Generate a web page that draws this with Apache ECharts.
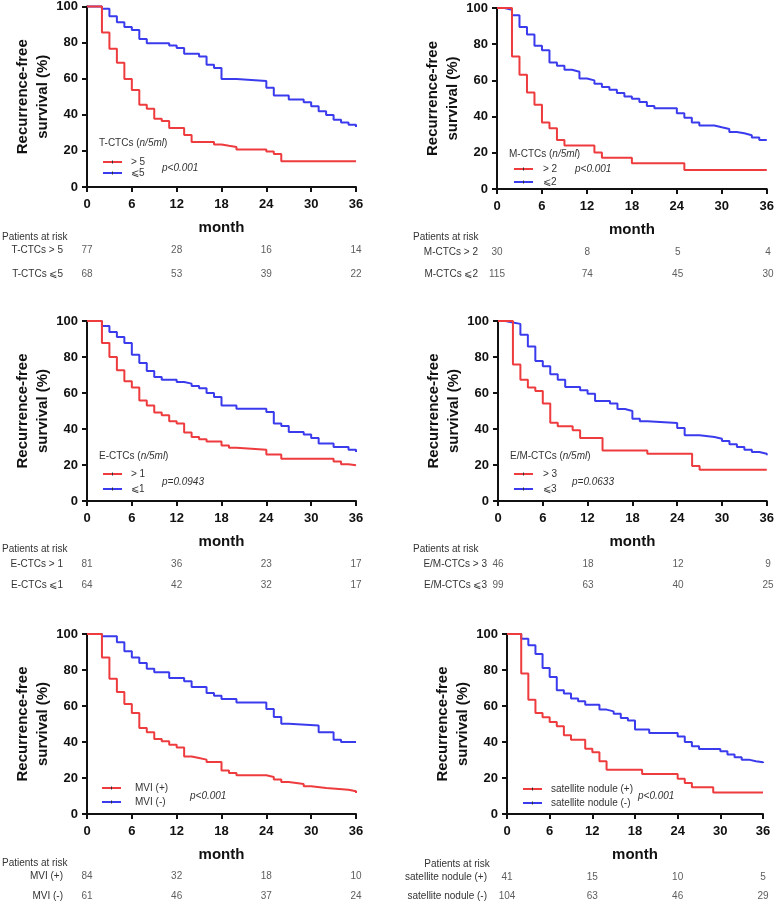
<!DOCTYPE html>
<html><head><meta charset="utf-8">
<script src="https://cdn.jsdelivr.net/npm/echarts@6/dist/echarts.min.js"></script>
<style>html,body{margin:0;padding:0;background:#fff}#c{width:777px;height:906px}</style>
</head><body><div id="c"></div><script>
// ---------- data ----------
const xTicks = [0, 6, 12, 18, 24, 30, 36];
const riskTimes = [0, 12, 24, 36];

const tctcHigh = [[0,100],[2,85.6],[3,76.6],[4,68.8],[5,59.8],[6,53.7],[7,45.6],[8,43.4],[9,37.8],[10,36.5],[11,32.7],[13,28.8],[14,24.9],[17,23.6],[18,22.8],[19,22.1],[20,20.8],[24,19.6],[25,18.3],[26,14.2],[36,14.2]];
const tctcLow = [[0,100],[2,98.7],[3,94.6],[4,91.3],[5,88.6],[6,87],[7,82],[8,79.7],[11,78.4],[12,77],[13,73.8],[15,72.3],[16,67.7],[17,65.9],[18,59.8],[20,58.7],[24,55],[25,50.7],[27,48.5],[29,47],[30,44.8],[31,41.9],[32,39.9],[33,37.3],[34,35.8],[35,34.5],[36,33.2]];
const mctcHigh = [[0,100],[2,73.2],[3,63.1],[4,53.3],[5,46.5],[6,36.7],[7,33.6],[8,27.1],[9,24],[13,20.1],[14,17.2],[18,14.2],[25,10.5],[36,10.5]];
const mctcLow = [[0,100],[1,99],[2,96],[3,89.5],[4,85.4],[5,79.2],[6,76.6],[7,69.9],[8,68.1],[9,65.9],[10,64.8],[11,61.1],[12,60],[13,58.1],[14,56.3],[15,54.8],[16,53],[17,51.1],[18,49.8],[19,48],[20,45.9],[21,44.6],[24,41.9],[25,39.3],[26,36.7],[27,35.1],[29,34.1],[30,33.2],[31,31.5],[32,30.8],[33,29.7],[34,28.4],[35,27.1],[36,26.8]];
const ectcHigh = [[0,100],[2,87.8],[3,80],[4,72.6],[5,66.5],[6,63],[7,55.9],[8,53.1],[9,49.1],[10,47.6],[11,44.3],[12,43],[13,38],[14,35.6],[15,34.3],[16,33.1],[18,30.9],[19,29.6],[20,28.5],[24,25.9],[26,23.5],[33,22],[34,20.4],[35,19.8],[36,19.8]];
const ectcLow = [[0,100],[2,97.2],[3,93.9],[4,91.1],[5,87.8],[6,81.3],[7,76.7],[8,72.2],[9,68.9],[10,67.4],[12,66.1],[13,65.2],[14,63.9],[15,62.6],[16,60],[17,57.8],[18,53.1],[20,51.3],[24,49.4],[25,43],[26,41.7],[27,38.3],[29,36.9],[30,35],[31,31.9],[33,30],[35,28.5],[36,27.2]];
const emHigh = [[0,100],[2,75.9],[3,67.4],[4,63],[5,61.1],[6,54.1],[7,43.5],[8,41.5],[10,39.3],[11,35],[14,28.1],[20,26.3],[26,19.4],[27,17.4],[36,17.4]];
const emLow = [[0,100],[1,99.2],[2,98.4],[3,92.4],[4,85.9],[5,77.8],[6,74.8],[7,70.4],[8,67.4],[9,63.3],[11,61.5],[12,59.6],[13,55.6],[15,54.1],[16,51.1],[17,50],[18,45.7],[19,44.3],[20,43.3],[24,40.6],[25,36.5],[27,35.6],[29,34.6],[30,33.3],[31,31.5],[32,30],[33,28.5],[34,27.2],[35,26.3],[36,25.4]];
const mviPos = [[0,100],[2,87],[3,75.2],[4,67.8],[5,61.1],[6,56.1],[7,47.8],[8,45.4],[9,41.7],[10,40.4],[11,38.5],[12,37],[13,32],[14,31.1],[15,30.2],[16,28.9],[18,24.1],[19,22.8],[20,21.5],[24,20.6],[25,19.1],[26,17.8],[27,16.7],[29,15.4],[30,14.4],[32,13.5],[35,12.6],[36,11.7]];
const mviNeg = [[0,100],[2,98.7],[4,95.4],[5,90.4],[6,87],[7,83.9],[8,80.7],[9,78.7],[11,75.6],[13,73.7],[14,70.6],[16,67.2],[17,65.7],[18,63.9],[20,62],[24,58.3],[25,53.9],[26,50.2],[27,49.1],[31,45.4],[33,41.3],[34,40],[36,40]];
const satPos = [[0,100],[2,78],[3,63.5],[4,56.1],[5,53.7],[6,51.1],[7,48.7],[8,43.7],[9,41.3],[11,36.3],[12,34.3],[13,29.3],[14,24.6],[19,22.2],[24,19.6],[25,17.2],[26,14.8],[29,12],[36,12]];
const satNeg = [[0,100],[2,97.4],[3,93.7],[4,88.9],[5,81.1],[6,76.1],[7,68.7],[8,66.9],[9,64.1],[10,62.6],[11,60.7],[13,58],[14,57],[15,55.7],[16,53.3],[17,51.9],[18,46.9],[20,45],[24,43.1],[25,40],[26,37.6],[27,36.1],[30,34.8],[31,33],[32,31.5],[33,30.2],[34,29.3],[35,28.7],[36,28.3]];

const tctcRisk = [[77,28,16,14],[68,53,39,22]];
const mctcRisk = [[30,8,5,4],[115,74,45,30]];
const ectcRisk = [[81,36,23,17],[64,42,32,17]];
const emRisk = [[46,18,12,9],[99,63,40,25]];
const mviRisk = [[84,32,18,10],[61,46,37,24]];
const satRisk = [[41,15,10,5],[104,63,46,29]];

const tctcRows = ['T-CTCs > 5','T-CTCs \u2A7D5'];
const mctcRows = ['M-CTCs > 2','M-CTCs \u2A7D2'];
const ectcRows = ['E-CTCs > 1','E-CTCs \u2A7D1'];
const emRows = ['E/M-CTCs > 3','E/M-CTCs \u2A7D3'];
const mviRows = ['MVI (+)','MVI (-)'];
const satRows = ['satellite nodule (+)','satellite nodule (-)'];

const tctcLegend = ['> 5','\u2A7D5'];
const mctcLegend = ['> 2','\u2A7D2'];
const ectcLegend = ['> 1','\u2A7D1'];
const emLegend = ['> 3','\u2A7D3'];
const mviLegend = ['MVI (+)','MVI (-)'];
const satLegend = ['satellite nodule (+)','satellite nodule (-)'];

const pValues = ['p<0.001','p<0.001','p=0.0943','p=0.0633','p<0.001','p<0.001'];
const legendTitles = ['T-CTCs','M-CTCs','E-CTCs','E/M-CTCs',null,null];

// ---------- layout ----------
const RED = '#ee3b3e', BLUE = '#3b3bee';
const FONT = '"Liberation Sans", Arial, sans-serif';
const panels = [
  {red:tctcHigh, blue:tctcLow, risk:tctcRisk, rows:tctcRows, leg:tctcLegend,
   grid:{left:87,top:6,width:269,height:181}, rgrid:{top:238,height:48}, rmargin:24,
   par:[2,237,'left'], lt:[99,143], ll:[103,162,173,131], pv:[162,168]},
  {red:mctcHigh, blue:mctcLow, risk:mctcRisk, rows:mctcRows, leg:mctcLegend,
   grid:{left:497,top:8,width:271,height:181}, rgrid:{top:241,height:44}, rmargin:19,
   par:[413,237,'left'], lt:[509,154], ll:[514,169,182,543], pv:[575,169]},
  {red:ectcHigh, blue:ectcLow, risk:ectcRisk, rows:ectcRows, leg:ectcLegend,
   grid:{left:87,top:321,width:269,height:180}, rgrid:{top:553.5,height:42}, rmargin:24,
   par:[2,549,'left'], lt:[99,456], ll:[103,474,489,131], pv:[162,482]},
  {red:emHigh, blue:emLow, risk:emRisk, rows:emRows, leg:emLegend,
   grid:{left:498,top:321,width:270,height:180}, rgrid:{top:553.5,height:42}, rmargin:11,
   par:[413,549,'left'], lt:[510,456], ll:[514,474,489,543], pv:[572,482]},
  {red:mviPos, blue:mviNeg, risk:mviRisk, rows:mviRows, leg:mviLegend,
   grid:{left:87,top:634,width:269,height:180}, rgrid:{top:866,height:44}, rmargin:24,
   par:[2,863,'left'], lt:null, ll:[102,788,802,135], pv:[190,796]},
  {red:satPos, blue:satNeg, risk:satRisk, rows:satRows, leg:satLegend,
   grid:{left:507,top:634,width:256,height:180}, rgrid:{top:867.5,height:42}, rmargin:20,
   par:[457,864,'center'], lt:null, ll:[523,789,803,551], pv:[638,796]}
];

const grid = [], xAxis = [], yAxis = [], series = [], graphic = [];
panels.forEach((p, i) => {
  const gi = grid.length;
  grid.push(Object.assign({}, p.grid));
  xAxis.push({gridIndex:gi, type:'value', min:xTicks[0], max:xTicks[xTicks.length-1], interval:6,
    name:'month', nameLocation:'middle', nameGap:33,
    nameTextStyle:{fontFamily:FONT, fontWeight:'bold', fontSize:15, color:'#111'},
    axisLine:{lineStyle:{color:'#111', width:2}},
    axisTick:{show:true, length:5, lineStyle:{color:'#111', width:2}},
    axisLabel:{fontFamily:FONT, fontWeight:'bold', fontSize:13, color:'#111', margin:11},
    splitLine:{show:false}});
  yAxis.push({gridIndex:gi, type:'value', min:0, max:100, interval:20,
    name:'Recurrence-free\nsurvival (%)', nameLocation:'middle', nameGap:34, nameRotate:90,
    nameTextStyle:{fontFamily:FONT, fontWeight:'bold', fontSize:15, color:'#111', lineHeight:20, align:'center'},
    axisLine:{show:true, lineStyle:{color:'#111', width:2}},
    axisTick:{show:true, length:5, lineStyle:{color:'#111', width:2}},
    axisLabel:{fontFamily:FONT, fontWeight:'bold', fontSize:13, color:'#111', margin:9},
    splitLine:{show:false}});
  series.push({type:'line', xAxisIndex:gi, yAxisIndex:gi, step:'end', data:p.blue,
    showSymbol:false, clip:false, lineStyle:{color:BLUE, width:2}, itemStyle:{color:BLUE}, z:3});
  series.push({type:'line', xAxisIndex:gi, yAxisIndex:gi, step:'end', data:p.red,
    showSymbol:false, clip:false, lineStyle:{color:RED, width:2}, itemStyle:{color:RED}, z:4});

  // risk table grid
  const ri = grid.length;
  grid.push({left:p.grid.left, width:p.grid.width, top:p.rgrid.top, height:p.rgrid.height});
  xAxis.push({gridIndex:ri, type:'value', min:0, max:36, show:false});
  yAxis.push({gridIndex:ri, type:'category', inverse:true, data:p.rows,
    axisLine:{show:false}, axisTick:{show:false}, splitLine:{show:false},
    axisLabel:{fontFamily:FONT, fontSize:10, color:'#333', margin:p.rmargin}});
  const rd = [];
  p.risk.forEach((row, r) => row.forEach((v, j) => rd.push([riskTimes[j], r, v])));
  series.push({type:'scatter', xAxisIndex:ri, yAxisIndex:ri, data:rd, symbolSize:1,
    itemStyle:{color:'rgba(0,0,0,0)'}, silent:true,
    label:{show:true, position:'inside', formatter:(q)=>String(q.value[2]),
      fontFamily:FONT, fontSize:10, color:'#333'}});

  // "Patients at risk"
  graphic.push({type:'text', x:p.par[0], y:p.par[1], style:{text:'Patients at risk',
    font:'10px '+FONT, fill:'#333', textAlign:p.par[2], textVerticalAlign:'middle'}});
  // legend title
  if (p.lt) {
    graphic.push({type:'text', x:p.lt[0], y:p.lt[1], style:{
      text:'{a|'+legendTitles[i]+' (}{b|n/5ml}{a|)}', textVerticalAlign:'middle',
      rich:{a:{font:'10px '+FONT, fill:'#333'}, b:{font:'italic 10px '+FONT, fill:'#333'}}}});
  }
  const [lx, ly1, ly2, tx] = p.ll;
  [[ly1, RED, p.leg[0]], [ly2, BLUE, p.leg[1]]].forEach(([yy, col, txt]) => {
    graphic.push({type:'line', shape:{x1:lx, y1:yy, x2:lx+19, y2:yy}, style:{stroke:col, lineWidth:2}});
    graphic.push({type:'line', shape:{x1:lx+9.5, y1:yy-1.5, x2:lx+9.5, y2:yy+1.5}, style:{stroke:'#333', lineWidth:1}});
    graphic.push({type:'text', x:tx, y:yy, style:{text:txt, font:'10px '+FONT, fill:'#333', textVerticalAlign:'middle'}});
  });
  graphic.push({type:'text', x:p.pv[0], y:p.pv[1], style:{text:pValues[i], font:'italic 10px '+FONT, fill:'#333', textVerticalAlign:'middle'}});
});

const chart = echarts.init(document.getElementById('c'), null, {renderer:'canvas'});
chart.setOption({animation:false, backgroundColor:'#fff', grid, xAxis, yAxis, series, graphic});
</script></body></html>
